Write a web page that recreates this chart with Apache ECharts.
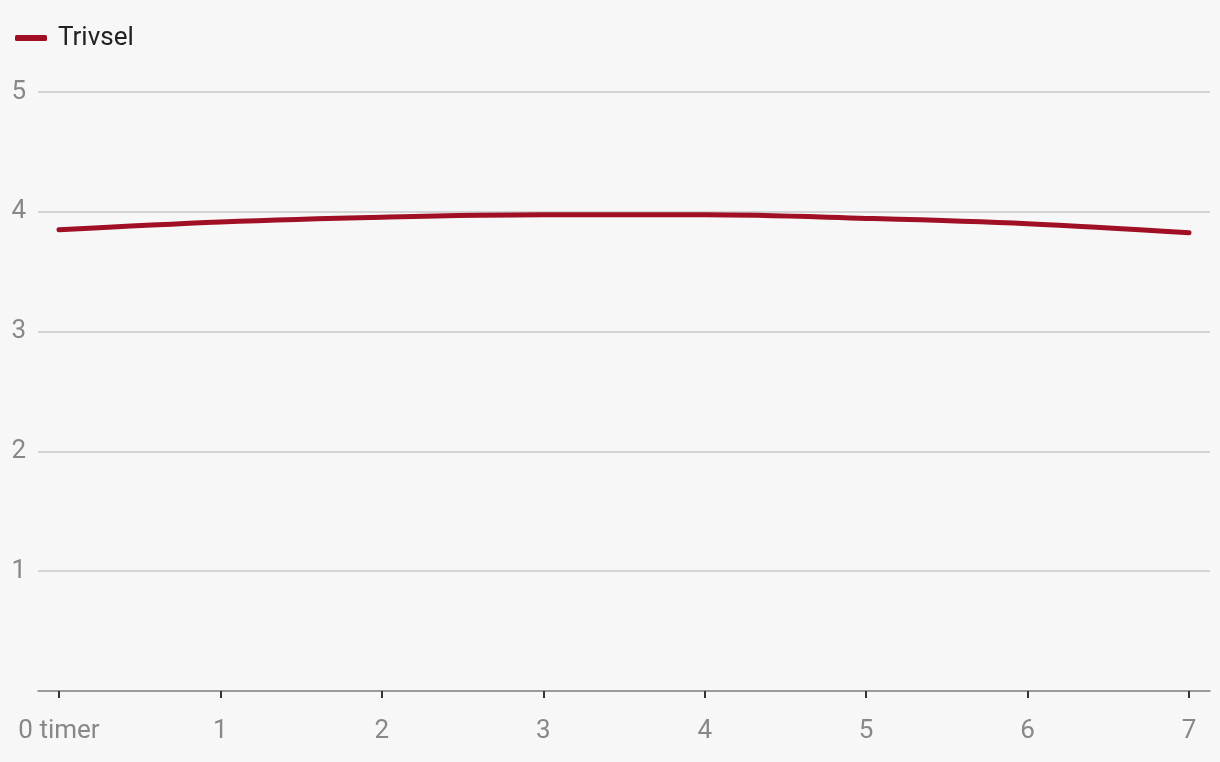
<!DOCTYPE html>
<html>
<head>
<meta charset="utf-8">
<script src="https://cdn.jsdelivr.net/npm/echarts@6/dist/echarts.min.js"></script>
<style>
  html, body { margin: 0; padding: 0; background: #f7f7f7; }
  #chart { width: 1220px; height: 762px; }
</style>
</head>
<body>
<div id="chart"></div>
<script>
// timer (x) og trivsel (y)
const hours = [0, 1, 2, 3, 4, 5, 6, 7];
const trivsel = [3.85, 3.915, 3.955, 3.975, 3.975, 3.945, 3.9, 3.825];
const yTicks = [1, 2, 3, 4, 5];

const chart = echarts.init(document.getElementById('chart'));
const font = 'Roboto, "Liberation Sans", sans-serif';

chart.setOption({
  backgroundColor: '#f7f7f7',
  animation: false,
  legend: {
    left: 10,
    top: 20,
    icon: 'roundRect',
    itemWidth: 32,
    itemHeight: 6,
    itemGap: 20,
    textStyle: { fontFamily: font, fontSize: 26, color: '#222', padding: [0, 0, 0, 6] },
    data: ['Trivsel']
  },
  grid: { left: 38, right: 10, top: 92, bottom: 71 },
  xAxis: {
    type: 'value',
    min: -0.13,
    max: 7.13,
    splitLine: { show: false },
    axisLine: { lineStyle: { color: '#888', width: 1.5 } },
    axisTick: {
      show: true,
      length: 7,
      customValues: hours,
      lineStyle: { color: '#333', width: 2 }
    },
    axisLabel: {
      customValues: hours,
      margin: 27,
      fontFamily: font,
      fontSize: 26,
      color: '#888',
      formatter: v => v === 0 ? '0 timer' : String(v)
    }
  },
  yAxis: {
    type: 'value',
    min: 0,
    max: 5,
    interval: 1,
    axisLine: { show: false },
    axisTick: { show: false },
    splitLine: { lineStyle: { color: '#c8c8c8', width: 1.5 } },
    axisLabel: {
      margin: 12,
      fontFamily: font,
      fontSize: 26,
      color: '#888',
      formatter: v => yTicks.includes(v) ? String(v) : ''
    }
  },
  series: [{
    name: 'Trivsel',
    type: 'line',
    smooth: 0.35,
    symbol: 'none',
    lineStyle: { color: '#a00f23', width: 5, cap: 'round' },
    itemStyle: { color: '#a00f23' },
    data: hours.map((h, i) => [h, trivsel[i]])
  }]
});
</script>
</body>
</html>
